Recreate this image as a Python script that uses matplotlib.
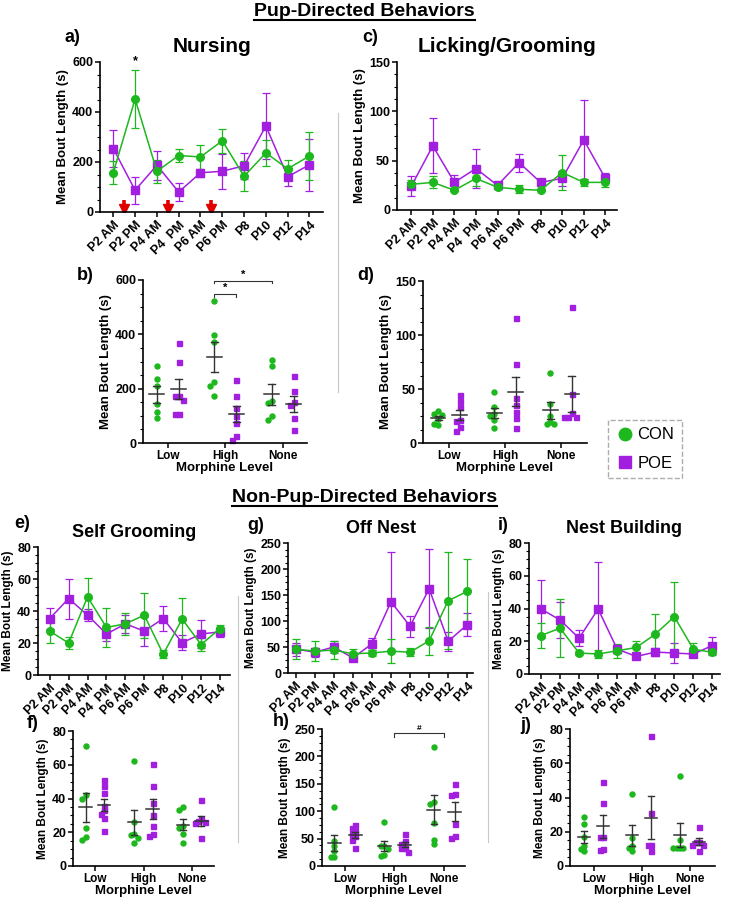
import matplotlib
matplotlib.use('Agg')
import matplotlib.pyplot as plt
import numpy as np
from matplotlib.lines import Line2D
from matplotlib.ticker import MultipleLocator, AutoMinorLocator

plt.rcParams['font.family'] = ['Liberation Sans', 'DejaVu Sans']
plt.rcParams['font.weight'] = 'bold'
NARROW = ['Liberation Sans Narrow', 'Liberation Sans', 'DejaVu Sans']

CON_COLOR = '#1db81d'
POE_COLOR = '#a21fe0'
SEM_COLOR = '#333333'
W, H = 729, 900

TIMEPOINTS = ['P2 AM', 'P2 PM', 'P4 AM', 'P4  PM', 'P6 AM', 'P6 PM', 'P8', 'P10', 'P12', 'P14']
LEVELS = ['Low', 'High', 'None']

# a) Nursing
nurs_con_mean = [158, 452, 163, 226, 220, 285, 143, 236, 173, 224]
nurs_con_sem = [45, 115, 47, 25, 50, 47, 60, 51, 34, 97]
nurs_poe_mean = [254, 87, 187, 80, 157, 163, 185, 344, 141, 189]
nurs_poe_sem = [75, 55, 57, 35, 16, 70, 52, 132, 36, 103]

# b) Nursing by morphine level
nurs_con_pts = [[284, 235, 211, 143, 113, 92],
                [524, 398, 373, 224, 208, 174],
                [306, 285, 153, 149, 100, 86]]
nurs_poe_pts = [[367, 300, 174, 172, 159, 107, 107],
                [233, 174, 129, 98, 73, 24, 12],
                [245, 192, 150, 141, 92, 47]]

# c) Licking/Grooming
lick_con_mean = [26, 28, 20, 32, 23, 21, 20, 38, 28, 28]
lick_con_sem = [4, 6, 1, 8, 2, 4, 1, 18, 3.5, 5]
lick_poe_mean = [24, 65, 28, 42, 25, 48, 28, 32, 71, 32]
lick_poe_sem = [10, 28, 7, 20, 2, 9, 1, 8, 40, 5]

# d) Licking/Grooming by morphine level
lick_con_pts = [[30, 27, 26, 22, 18, 17],
                [47, 33, 27, 25, 21, 14],
                [65, 36, 25, 19, 18, 18]]
lick_poe_pts = [[44, 39, 33, 21, 20, 15, 11],
                [116, 73, 42, 35, 29, 23, 14],
                [126, 45, 28, 24, 24, 24]]

# e) Self Grooming
self_con_mean = [27.4, 20, 48.8, 29.7, 32, 37.4, 13, 35, 19, 29]
self_con_sem = [7.5, 3.5, 12, 12, 7, 14, 2.5, 13, 4, 2]
self_poe_mean = [35.3, 47.8, 37.4, 25.6, 32, 27.4, 35.3, 20.2, 25.6, 27]
self_poe_sem = [6.5, 12.5, 3.7, 4.5, 5.5, 9, 8, 4.7, 8.8, 3]

# f) Self Grooming by morphine level
self_con_pts = [[71.4, 42, 40, 22.5, 17.3, 15.4],
                [62, 26, 18.7, 18.3, 16.8, 13.5],
                [35.2, 33, 24, 22.5, 18.7, 13.9]]
self_poe_pts = [[50.7, 47.2, 43.4, 35.8, 33, 30.7, 28.2, 20.6],
                [60.2, 47.6, 37.1, 30.1, 24, 19.2, 17.7],
                [39.2, 27.6, 26.5, 26.3, 25.3, 16.4]]

# g) Off Nest
off_con_mean = [46, 42, 44, 37, 38.5, 42, 40, 62, 139, 157]
off_con_sem = [19, 19, 18, 9, 6, 23, 8, 27, 93, 63]
off_poe_mean = [46, 40, 50, 29, 56, 137, 90, 162, 61, 93]
off_poe_sem = [12.5, 9, 11, 3, 12, 95, 20, 76, 18, 22]

# h) Off Nest by morphine level
off_con_pts = [[108, 45, 37, 28, 17, 17],
               [80, 37, 36, 31, 20, 18],
               [217, 117, 114, 78, 48, 40]]
off_poe_pts = [[74, 70, 64, 58, 54, 48, 32],
               [59, 46, 40, 32, 32, 25],
               [150, 131, 130, 76, 55, 52]]

# i) Nest Building
nest_con_mean = [23.5, 28, 12.8, 12.2, 14.2, 16.2, 24.3, 35, 15.2, 13.2]
nest_con_sem = [7.5, 17.5, 1.5, 2.3, 4.3, 4.2, 12.5, 21, 3.8, 1]
nest_poe_mean = [39.7, 33, 21.9, 39.7, 15.2, 10.7, 13.4, 12.8, 12.2, 17.4]
nest_poe_sem = [17.6, 11, 5, 29, 2.5, 1.5, 2.3, 6, 2, 5.5]

# j) Nest Building by morphine level
nest_con_pts = [[28.4, 24.8, 17.1, 11.8, 10, 9],
                [42.3, 16.6, 11.8, 10.3, 8.6],
                [52.8, 15, 10.5, 10.3, 10.3, 10.3]]
nest_poe_pts = [[49, 36.6, 17.1, 17, 10, 9.3],
                [76, 31, 12.4, 12.4, 9],
                [22.9, 14.3, 14.3, 12.2, 12.2, 9]]


def box(left, top, right, bottom):
    return [left / W, 1 - bottom / H, (right - left) / W, (bottom - top) / H]


def style_axis(ax, ymax, ystep, lsize):
    for s in ['top', 'right']:
        ax.spines[s].set_visible(False)
    for s in ['left', 'bottom']:
        ax.spines[s].set_linewidth(1.2)
    ax.set_ylim(0, ymax)
    ax.yaxis.set_major_locator(MultipleLocator(ystep))
    ax.yaxis.set_minor_locator(AutoMinorLocator(4))
    ax.tick_params(axis='both', which='major', length=3.5, width=1.1, labelsize=9, pad=1.5)
    ax.tick_params(axis='y', which='minor', length=2, width=0.8)
    ax.tick_params(axis='x', which='minor', bottom=False)
    for lab in ax.get_yticklabels():
        lab.set_fontweight('bold')
        lab.set_family(NARROW)
    ax.set_ylabel('Mean Bout Length (s)', fontsize=lsize, fontweight='bold', family=NARROW,
                  labelpad=2)


def draw_time(ax, con_mean, con_sem, poe_mean, poe_sem, ymax, ystep, xlim, title, tsize, lsize):
    x = np.arange(len(TIMEPOINTS))
    ax.errorbar(x, poe_mean, yerr=poe_sem, color=POE_COLOR, marker='s', ms=5.5, lw=1.1,
                elinewidth=0.9, capsize=3, capthick=0.9, clip_on=False, zorder=3)
    ax.errorbar(x, con_mean, yerr=con_sem, color=CON_COLOR, marker='o', ms=5.5, lw=1.1,
                elinewidth=0.9, capsize=3, capthick=0.9, clip_on=False, zorder=3)
    style_axis(ax, ymax, ystep, lsize)
    ax.set_xlim(*xlim)
    ax.set_xticks(x)
    ax.set_xticklabels(TIMEPOINTS, rotation=45, ha='right', rotation_mode='anchor',
                       fontsize=9, fontweight='bold', family=NARROW)
    ax.set_title(title, fontsize=tsize, fontweight='bold', pad=7)


def swarm_offsets(vals, tol, step):
    placed = []
    offs = []
    for v in vals:
        for k in [0, -1, 1, -2, 2, -3, 3]:
            if all(not (o == k and abs(v - pv) < tol) for pv, o in placed):
                break
        placed.append((v, k))
        offs.append(k * step)
    return offs


def draw_levels(ax, con_pts, poe_pts, ymax, ystep, xlim, lsize, off=0.19):
    for i in range(len(LEVELS)):
        for pts, color, marker, dx in [(con_pts[i], CON_COLOR, 'o', -off),
                                       (poe_pts[i], POE_COLOR, 's', off)]:
            pts = np.array(pts, dtype=float)
            jit = swarm_offsets(pts, ymax * 0.03, 0.07)
            ax.plot(i + dx + np.array(jit), pts, ls='none', marker=marker, ms=3.6,
                    color=color, mec=color, clip_on=False, zorder=2)
            m = pts.mean()
            se = pts.std(ddof=1) / np.sqrt(len(pts))
            cx = i + dx
            ax.plot([cx - 0.13, cx + 0.13], [m, m], color=SEM_COLOR, lw=1.1, zorder=4)
            ax.plot([cx, cx], [m - se, m + se], color=SEM_COLOR, lw=1.0, zorder=4)
            for yy in (m - se, m + se):
                ax.plot([cx - 0.06, cx + 0.06], [yy, yy], color=SEM_COLOR, lw=1.0, zorder=4)
    style_axis(ax, ymax, ystep, lsize)
    ax.set_xlim(*xlim)
    ax.set_xticks(range(len(LEVELS)))
    ax.set_xticklabels(LEVELS, fontsize=8.5, fontweight='bold', family=NARROW)
    ax.set_xlabel('Morphine Level', fontsize=9.5, fontweight='bold', family=NARROW, labelpad=0)


def bracket(ax, x0, x1, y, drop, text, tsize=8):
    ax.plot([x0, x0, x1, x1], [y - drop, y, y, y - drop], color=SEM_COLOR, lw=0.8, clip_on=False)
    ax.text((x0 + x1) / 2, y + drop * 0.3, text, ha='center', va='bottom', fontsize=tsize)


fig = plt.figure(figsize=(W / 100, H / 100), dpi=100)

ax_a = fig.add_axes(box(100, 62, 323, 212))
draw_time(ax_a, nurs_con_mean, nurs_con_sem, nurs_poe_mean, nurs_poe_sem, 600, 200,
          (-0.61, 9.62), 'Nursing', 15, 9.5)
ax_a.text(1, 578, '*', ha='center', va='bottom', fontsize=9)
for xa in [0.5, 2.5, 4.5]:
    ax_a.plot([xa, xa], [22, 50], color='#e00000', lw=2.6, solid_capstyle='butt')
    ax_a.plot([xa], [14], marker='v', ms=6.5, color='#e00000', ls='none')

ax_b = fig.add_axes(box(143, 280, 307, 443))
draw_levels(ax_b, nurs_con_pts, nurs_poe_pts, 600, 200, (-0.43, 2.42), 9.5)
bracket(ax_b, 1 - 0.19, 1 + 0.19, 548, 10, '*')
bracket(ax_b, 1 - 0.19, 2 - 0.19, 598, 10, '*')

ax_c = fig.add_axes(box(397, 62, 617, 210))
draw_time(ax_c, lick_con_mean, lick_con_sem, lick_poe_mean, lick_poe_sem, 150, 50,
          (-0.66, 9.54), 'Licking/Grooming', 15, 9.5)

ax_d = fig.add_axes(box(423, 281, 587, 443))
draw_levels(ax_d, lick_con_pts, lick_poe_pts, 150, 50, (-0.46, 2.46), 9.5)

ax_e = fig.add_axes(box(38, 547, 230, 675))
draw_time(ax_e, self_con_mean, self_con_sem, self_poe_mean, self_poe_sem, 80, 20,
          (-0.62, 9.53), 'Self Grooming', 13, 8.5)

ax_f = fig.add_axes(box(73, 731, 214, 866))
draw_levels(ax_f, self_con_pts, self_poe_pts, 80, 20, (-0.45, 2.45), 8.5)

ax_g = fig.add_axes(box(288, 543, 473, 673))
draw_time(ax_g, off_con_mean, off_con_sem, off_poe_mean, off_poe_sem, 250, 50,
          (-0.40, 9.3), 'Off Nest', 13, 8.5)

ax_h = fig.add_axes(box(322, 729, 465, 866))
draw_levels(ax_h, off_con_pts, off_poe_pts, 250, 50, (-0.46, 2.42), 8.5, off=0.21)
bracket(ax_h, 1.0, 2.0, 243, 8, '#', tsize=6)

ax_i = fig.add_axes(box(529, 543, 720, 674))
draw_time(ax_i, nest_con_mean, nest_con_sem, nest_poe_mean, nest_poe_sem, 80, 20,
          (-0.63, 9.4), 'Nest Building', 13, 8.5)

ax_j = fig.add_axes(box(570, 729, 715, 866))
draw_levels(ax_j, nest_con_pts, nest_poe_pts, 80, 20, (-0.49, 2.53), 8.5, off=0.2)

# panel letters
for lab, px, py in [('a)', 72, 37), ('b)', 85, 275), ('c)', 370, 37), ('d)', 366, 275),
                    ('e)', 22, 523), ('f)', 33, 723), ('g)', 256, 525), ('h)', 281, 722),
                    ('i)', 503, 525), ('j)', 526, 725)]:
    fig.text(px / W, 1 - py / H, lab, ha='center', va='center', fontsize=13, fontweight='bold')

# section headers with underline
fig.canvas.draw()
renderer = fig.canvas.get_renderer()
for txt, py in [('Pup-Directed Behaviors', 12), ('Non-Pup-Directed Behaviors', 498)]:
    t = fig.text(0.5, 1 - py / H, txt, ha='center', va='center', fontsize=14, fontweight='bold')
    bb = t.get_window_extent(renderer=renderer).transformed(fig.transFigure.inverted())
    fig.add_artist(Line2D([bb.x0, bb.x1], [bb.y0 + 0.001, bb.y0 + 0.001], color='black', lw=1.5))

# faint separators
for px, y0, y1 in [(338, 113, 392), (238, 596, 842), (488, 592, 842)]:
    fig.add_artist(Line2D([px / W, px / W], [1 - y0 / H, 1 - y1 / H], color='#c8c8c8', lw=0.8))

handles = [Line2D([], [], ls='none', marker='o', color=CON_COLOR, ms=9, label='CON'),
           Line2D([], [], ls='none', marker='s', color=POE_COLOR, ms=8, label='POE')]
leg = fig.legend(handles=handles, loc='center', bbox_to_anchor=(645 / W, 1 - 449 / H),
                 frameon=True, fancybox=False, prop={'size': 12, 'weight': 'normal'},
                 handletextpad=0.2, labelspacing=0.8, borderpad=0.45, handlelength=1.1)
leg.get_frame().set_edgecolor('#999999')
leg.get_frame().set_linestyle('--')
leg.get_frame().set_linewidth(1.0)

fig.savefig('out.png', dpi=100)
